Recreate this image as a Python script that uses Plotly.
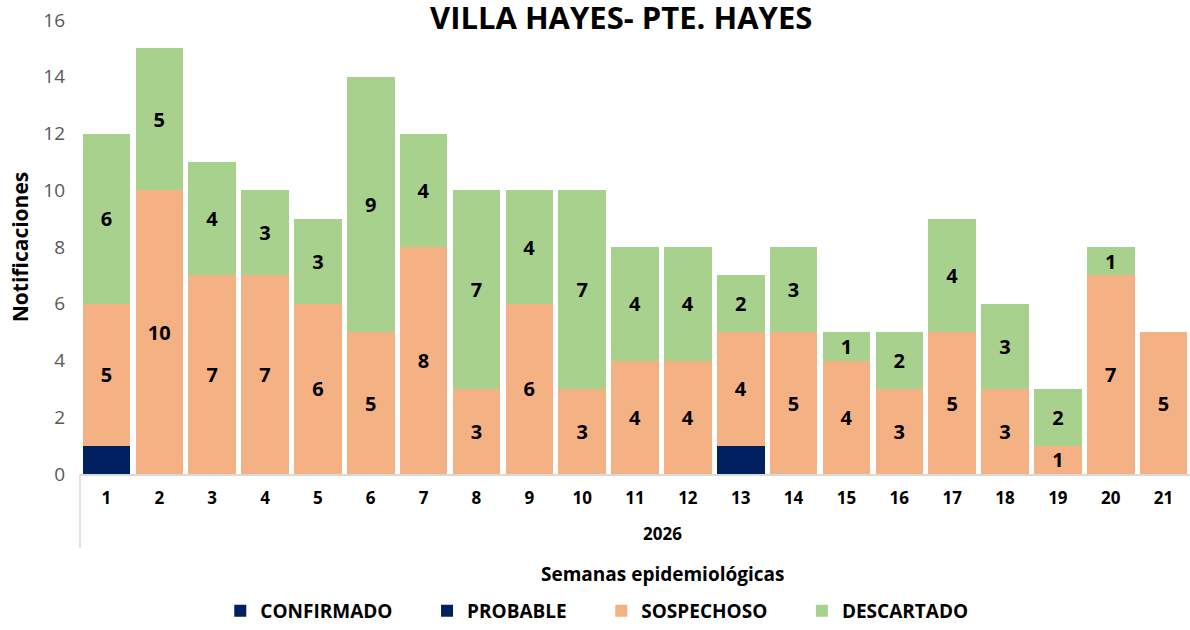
import plotly.graph_objects as go

semanas = [str(i) for i in range(1, 22)]
confirmado = [1, 0, 0, 0, 0, 0, 0, 0, 0, 0, 0, 0, 1, 0, 0, 0, 0, 0, 0, 0, 0]
probable = [0] * 21
sospechoso = [5, 10, 7, 7, 6, 5, 8, 3, 6, 3, 4, 4, 4, 5, 4, 3, 5, 3, 1, 7, 5]
descartado = [6, 5, 4, 3, 3, 9, 4, 7, 4, 7, 4, 4, 2, 3, 1, 2, 4, 3, 2, 1, 0]

FONT = "Open Sans"
PAD = "\u00a0" * 6


def labels(vals):
    return [str(v) if v > 0 else "" for v in vals]


fig = go.Figure()
fig.add_trace(go.Bar(x=semanas, y=confirmado, name="CONFIRMADO" + PAD, marker_color="#002060"))
fig.add_trace(go.Bar(x=semanas, y=probable, name="PROBABLE" + PAD, marker_color="#002060"))
fig.add_trace(go.Bar(x=semanas, y=sospechoso, name="SOSPECHOSO" + PAD, marker_color="#F4B183",
                     text=labels(sospechoso)))
fig.add_trace(go.Bar(x=semanas, y=descartado, name="DESCARTADO", marker_color="#A9D18E",
                     text=labels(descartado)))

fig.update_traces(marker_line_width=0, textposition="inside", insidetextanchor="middle",
                  textangle=0, constraintext="none",
                  textfont=dict(family=FONT, size=20, color="black", weight="bold"))

fig.update_layout(
    barmode="stack",
    bargap=0.1,
    width=1190,
    height=630,
    margin=dict(l=80, r=0, t=20, b=156),
    plot_bgcolor="white",
    paper_bgcolor="white",
    font=dict(family=FONT, color="black"),
    uniformtext=dict(minsize=10, mode="show"),
    title=dict(text="VILLA HAYES- PTE. HAYES", x=0.522, xanchor="center", y=0.972, yanchor="middle",
               font=dict(family=FONT, size=31, color="black", weight="bold")),
    legend=dict(orientation="h", xref="container", yref="container",
                x=0.5015, xanchor="center", y=0, yanchor="bottom",
                font=dict(family=FONT, size=19, color="black", weight="bold"),
                traceorder="normal", itemsizing="constant"),
)

fig.update_xaxes(
    showline=True, linecolor="#D9D9D9", linewidth=1.5, automargin=False,
    tickfont=dict(family=FONT, size=17, color="black", weight="bold"),
    ticks="", showgrid=False, ticklabelstandoff=8,
)
fig.update_yaxes(
    range=[0, 16], dtick=2, showgrid=False, showline=False, ticklabelstandoff=14,
    automargin=False, ticklabeloverflow="allow",
    tickfont=dict(family=FONT, size=19, color="#595959"),
    title=dict(text="Notificaciones", standoff=8,
               font=dict(family=FONT, size=21, color="black", weight="bold")),
)

# multi-level axis: year group and separator line
fig.add_shape(type="line", xref="paper", yref="paper", x0=0, x1=0, y0=0, y1=-0.163,
              line=dict(color="#D9D9D9", width=1.5))
fig.add_annotation(text="2026", xref="paper", yref="paper", x=0.525, y=-0.130, yanchor="middle",
                   showarrow=False, font=dict(family=FONT, size=17, color="black", weight="bold"))
fig.add_annotation(text="Semanas epidemiológicas", xref="paper", yref="paper", x=0.525, y=-0.220,
                   yanchor="middle", showarrow=False,
                   font=dict(family=FONT, size=19, color="black", weight="bold"))

fig.write_html("out.html", config={"displayModeBar": False},
               post_script="document.body.style.margin = '0';")
